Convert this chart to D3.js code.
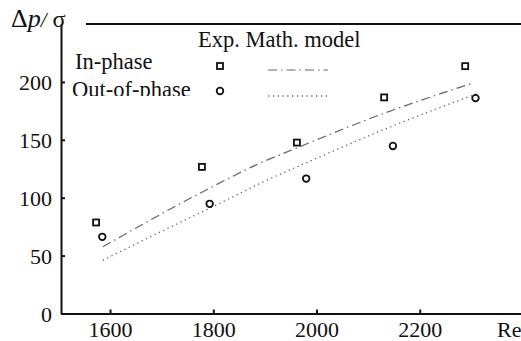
<!DOCTYPE html>
<html>
<head>
<meta charset="utf-8">
<script src="https://cdn.jsdelivr.net/npm/d3@7"></script>
<style>
  html, body { margin: 0; padding: 0; background: #fff; }
  svg { display: block; }
  text { font-family: "Liberation Serif", "Times New Roman", serif; fill: #111; }
</style>
</head>
<body>
<svg id="chart" width="521" height="341"></svg>
<script>
// Pressure drop vs. Reynolds number: experiment and mathematical model
const inPhaseRe    = [1573, 1778, 1962, 2131, 2288];
const inPhaseDp    = [78.6, 126.6, 147.6, 186.6, 213.6];
const outPhaseRe   = [1585, 1793, 1980, 2148, 2308];
const outPhaseDp   = [66.2, 94.7, 116.5, 144.7, 186];

const modelInRe    = [1586, 1773, 1889, 1962, 2115, 2303];
const modelInDp    = [57.6, 103.6, 129.5, 143, 170.3, 199];
const modelOutRe   = [1586, 1700, 1812, 1889, 2000, 2148, 2312];
const modelOutDp   = [46, 71, 95, 112, 134, 162, 190];

const xTicks = [1600, 1800, 2000, 2200];
const yTicks = [0, 50, 100, 150, 200];

const serif = "'Liberation Serif', 'Times New Roman', serif";
const svg = d3.select("#chart");
const x = d3.scaleLinear().domain([1505, 2400]).range([61, 523]);
const y = d3.scaleLinear().domain([0, 250]).range([313.5, 24]);

// Axes with inward ticks
const xAxis = svg.append("g").attr("transform", `translate(0,${y(0)})`)
  .call(d3.axisBottom(x).tickValues(xTicks).tickFormat(d3.format("d"))
    .tickSize(-4).tickSizeOuter(0));
const yAxis = svg.append("g").attr("transform", `translate(${x(1505)},0)`)
  .call(d3.axisLeft(y).tickValues(yTicks).tickFormat(d3.format("d"))
    .tickSize(-4).tickPadding(9).tickSizeOuter(0));
[xAxis, yAxis].forEach(g => {
  g.attr("font-family", serif).attr("font-size", 22);
  g.select(".domain").attr("stroke", "#111").attr("stroke-width", 2);
  g.selectAll(".tick line").attr("stroke", "#111").attr("stroke-width", 2);
  g.selectAll(".tick text").style("font-family", serif).style("font-size", "22px").attr("fill", "#111");
});
xAxis.selectAll(".tick text").attr("y", 23).attr("dy", 0);
yAxis.selectAll(".tick text").attr("dy", "0.35em");

// Top frame line
svg.append("line").attr("x1", 86).attr("x2", 521).attr("y1", 24).attr("y2", 24)
  .attr("stroke", "#111").attr("stroke-width", 2);

// Axis titles
const yl = svg.append("text").attr("x", 11).attr("y", 27).style("font-size", "26px");
yl.append("tspan").text("Δ");
yl.append("tspan").text("p").style("font-style", "italic");
yl.append("tspan").text("/").style("font-style", "italic").style("font-size", "21px");
yl.append("tspan").text(" σ").style("font-size", "24px");
svg.append("text").attr("x", 497).attr("y", 337).style("font-size", "22px").text("Re");

// Model curves
const line = d3.line().x(d => x(d[0])).y(d => y(d[1])).curve(d3.curveMonotoneX);
svg.append("path").datum(d3.zip(modelInRe, modelInDp)).attr("d", line)
  .attr("fill", "none").attr("stroke", "#666").attr("stroke-width", 1.2)
  .attr("stroke-dasharray", "9,4,1.5,4");
svg.append("path").datum(d3.zip(modelOutRe, modelOutDp)).attr("d", line)
  .attr("fill", "none").attr("stroke", "#666").attr("stroke-width", 1.3)
  .attr("stroke-dasharray", "1.3,3.5");

// Experimental markers
const sq = 6;
svg.selectAll(".sq").data(d3.zip(inPhaseRe, inPhaseDp)).join("rect")
  .attr("x", d => x(d[0]) - sq / 2).attr("y", d => y(d[1]) - sq / 2)
  .attr("width", sq).attr("height", sq)
  .attr("fill", "none").attr("stroke", "#111").attr("stroke-width", 1.8);
svg.selectAll(".ci").data(d3.zip(outPhaseRe, outPhaseDp)).join("circle")
  .attr("cx", d => x(d[0])).attr("cy", d => y(d[1])).attr("r", 3.3)
  .attr("fill", "none").attr("stroke", "#111").attr("stroke-width", 1.8);

// Legend
svg.append("text").attr("x", 198).attr("y", 47).style("font-size", "22.5px").text("Exp. Math. model");
svg.append("text").attr("x", 75).attr("y", 69).style("font-size", "22.5px").text("In-phase");
svg.append("clipPath").attr("id", "legclip").append("rect")
  .attr("x", 0).attr("y", 70).attr("width", 200).attr("height", 26);
svg.append("text").attr("x", 72).attr("y", 97).attr("clip-path", "url(#legclip)")
  .style("font-size", "22.5px").text("Out-of-phase");
svg.append("rect").attr("x", 220 - sq / 2).attr("y", 66 - sq / 2).attr("width", sq).attr("height", sq)
  .attr("fill", "none").attr("stroke", "#111").attr("stroke-width", 1.8);
svg.append("circle").attr("cx", 220).attr("cy", 91).attr("r", 3.3)
  .attr("fill", "none").attr("stroke", "#111").attr("stroke-width", 1.8);
svg.append("line").attr("x1", 268).attr("x2", 328).attr("y1", 70).attr("y2", 70)
  .attr("stroke", "#666").attr("stroke-width", 1.2).attr("stroke-dasharray", "9,4,1.5,4");
svg.append("line").attr("x1", 268).attr("x2", 328).attr("y1", 96).attr("y2", 96)
  .attr("stroke", "#666").attr("stroke-width", 1.3).attr("stroke-dasharray", "1.3,3.5");
</script>
</body>
</html>
